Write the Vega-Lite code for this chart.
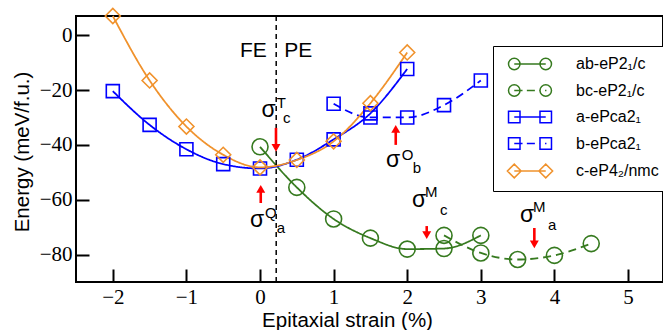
{
  "$schema": "https://vega.github.io/schema/vega-lite/v6.json",
  "autosize": "none",
  "width": 587,
  "height": 266,
  "padding": {"left": 76, "top": 16, "right": 0, "bottom": 48},
  "background": "white",
  "config": {
    "view": {"stroke": "black", "strokeWidth": 2},
    "axis": {"grid": false, "domain": false, "tickColor": "black", "tickWidth": 2, "tickSize": -13, "labelColor": "black", "titleColor": "black", "labelFont": "Liberation Serif", "labelFontSize": 21, "titleFont": "Liberation Sans", "titleFontSize": 20.5, "titleFontWeight": "normal", "labelOverlap": false, "labelFlush": false, "format": "d"}
  },
  "datasets": {
    "series": [
      {"name": "ab-eP2₁/c", "strain": 0, "energy": -40.7},
      {"name": "ab-eP2₁/c", "strain": 0.5, "energy": -55.5},
      {"name": "ab-eP2₁/c", "strain": 1, "energy": -67},
      {"name": "ab-eP2₁/c", "strain": 1.5, "energy": -74},
      {"name": "ab-eP2₁/c", "strain": 2, "energy": -78},
      {"name": "ab-eP2₁/c", "strain": 2.5, "energy": -77.8},
      {"name": "ab-eP2₁/c", "strain": 3, "energy": -73},
      {"name": "bc-eP2₁/c", "strain": 2.5, "energy": -73},
      {"name": "bc-eP2₁/c", "strain": 3, "energy": -79.4},
      {"name": "bc-eP2₁/c", "strain": 3.5, "energy": -81.8},
      {"name": "bc-eP2₁/c", "strain": 4, "energy": -80.3},
      {"name": "bc-eP2₁/c", "strain": 4.5, "energy": -76},
      {"name": "a-ePca2₁", "strain": -2, "energy": -20.4},
      {"name": "a-ePca2₁", "strain": -1.5, "energy": -32.7},
      {"name": "a-ePca2₁", "strain": -1, "energy": -41.6},
      {"name": "a-ePca2₁", "strain": -0.5, "energy": -47},
      {"name": "a-ePca2₁", "strain": 0, "energy": -48.6},
      {"name": "a-ePca2₁", "strain": 0.5, "energy": -45.4},
      {"name": "a-ePca2₁", "strain": 1, "energy": -38},
      {"name": "a-ePca2₁", "strain": 1.5, "energy": -28.5},
      {"name": "a-ePca2₁", "strain": 2, "energy": -12.3},
      {"name": "b-ePca2₁", "strain": 1, "energy": -25},
      {"name": "b-ePca2₁", "strain": 1.5, "energy": -30},
      {"name": "b-ePca2₁", "strain": 2, "energy": -30},
      {"name": "b-ePca2₁", "strain": 2.5, "energy": -25.5},
      {"name": "b-ePca2₁", "strain": 3, "energy": -16.5},
      {"name": "c-eP4₂/nmc", "strain": -2, "energy": 7},
      {"name": "c-eP4₂/nmc", "strain": -1.5, "energy": -16.5},
      {"name": "c-eP4₂/nmc", "strain": -1, "energy": -33.3},
      {"name": "c-eP4₂/nmc", "strain": -0.5, "energy": -43.6},
      {"name": "c-eP4₂/nmc", "strain": 0, "energy": -48.2},
      {"name": "c-eP4₂/nmc", "strain": 0.5, "energy": -45.5},
      {"name": "c-eP4₂/nmc", "strain": 1, "energy": -38.7},
      {"name": "c-eP4₂/nmc", "strain": 1.5, "energy": -24.8},
      {"name": "c-eP4₂/nmc", "strain": 2, "energy": -6.3}
    ],
    "boundary": [{"strain": 0.22}],
    "regions": [
      {"strain": -0.09, "energy": -7.9, "label": "FE"},
      {"strain": 0.52, "energy": -7.9, "label": "PE"}
    ],
    "arrows": [
      {"strain": 0.217, "tail": -33.8, "head": -41.1, "dir": "down"},
      {"strain": 1.844, "tail": -40.0, "head": -34.2, "dir": "up"},
      {"strain": 0.01, "tail": -61.2, "head": -56.0, "dir": "up"},
      {"strain": 2.265, "tail": -69.6, "head": -72.9, "dir": "down"},
      {"strain": 3.727, "tail": -70.3, "head": -76.3, "dir": "down"}
    ],
    "sigmas": [
      {"strain": 0.02, "energy": -29.7, "label": "σ"},
      {"strain": 1.71, "energy": -48.0, "label": "σ"},
      {"strain": -0.136, "energy": -69.8, "label": "σ"},
      {"strain": 2.065, "energy": -62.5, "label": "σ"},
      {"strain": 3.533, "energy": -68.0, "label": "σ"}
    ],
    "scripts": [
      {"strain": 0.227, "energy": -26.7, "label": "T"},
      {"strain": 0.313, "energy": -32.1, "label": "c"},
      {"strain": 1.925, "energy": -45.5, "label": "O"},
      {"strain": 2.075, "energy": -50.4, "label": "b"},
      {"strain": 0.068, "energy": -66.7, "label": "Q"},
      {"strain": 0.227, "energy": -72.2, "label": "a"},
      {"strain": 2.242, "energy": -58.9, "label": "M"},
      {"strain": 2.446, "energy": -65.6, "label": "c"},
      {"strain": 3.709, "energy": -64.4, "label": "M"},
      {"strain": 3.913, "energy": -71.0, "label": "a"}
    ]
  },
  "resolve": {"scale": {"shape": "independent"}, "legend": {"color": "independent", "shape": "independent"}},
  "layer": [
    {
      "data": {"name": "series"},
      "mark": {"type": "line", "interpolate": "monotone", "strokeWidth": 1.8},
      "encoding": {
        "x": {"field": "strain", "type": "quantitative", "scale": {"domain": [-2.5, 5.475], "nice": false, "zero": false},
          "axis": {"values": [-2, -1, 0, 1, 2, 3, 4, 5], "labelPadding": 17.5, "title": "Epitaxial strain (%)", "titleX": 271, "titleY": 44.5, "titleBaseline": "alphabetic", "titleAlign": "center"}},
        "y": {"field": "energy", "type": "quantitative", "scale": {"domain": [-90, 7], "nice": false, "zero": false},
          "axis": {"values": [-80, -60, -40, -20, 0], "labelPadding": 17, "title": "Energy (meV/f.u.)", "titleX": -48, "titleY": 135.5, "titleBaseline": "alphabetic", "titleAlign": "center", "titleAngle": -90}},
        "color": {"field": "name", "type": "nominal", "scale": {"domain": ["ab-eP2₁/c", "bc-eP2₁/c", "a-ePca2₁", "b-ePca2₁", "c-eP4₂/nmc"], "range": ["#367a1f", "#367a1f", "#0000ff", "#0000ff", "#f0922c"]}, "legend": null},
        "strokeDash": {"field": "name", "type": "nominal", "scale": {"domain": ["ab-eP2₁/c", "bc-eP2₁/c", "a-ePca2₁", "b-ePca2₁", "c-eP4₂/nmc"], "range": [[1, 0], [8, 5], [1, 0], [8, 5], [1, 0]]}, "legend": null}
      }
    },
    {
      "data": {"name": "boundary"},
      "mark": {"type": "rule", "color": "black", "strokeWidth": 1.5, "strokeDash": [5, 4]},
      "encoding": {"x": {"field": "strain", "type": "quantitative"}}
    },
    {
      "data": {"name": "series"},
      "transform": [{"filter": "indexof(datum.name, 'eP2₁/c') >= 0"}],
      "mark": {"type": "point", "shape": "circle", "filled": false, "size": 256, "strokeWidth": 1.6, "opacity": 1},
      "encoding": {
        "x": {"field": "strain", "type": "quantitative"},
        "y": {"field": "energy", "type": "quantitative"},
        "color": {"field": "name", "type": "nominal", "legend": null}}
    },
    {
      "data": {"name": "series"},
      "transform": [{"filter": "indexof(datum.name, 'ePca') >= 0"}],
      "mark": {"type": "point", "shape": "square", "filled": false, "size": 169, "strokeWidth": 1.6, "opacity": 1},
      "encoding": {
        "x": {"field": "strain", "type": "quantitative"},
        "y": {"field": "energy", "type": "quantitative"},
        "color": {"field": "name", "type": "nominal", "legend": null}}
    },
    {
      "data": {"name": "series"},
      "transform": [{"filter": "indexof(datum.name, 'nmc') >= 0"}],
      "mark": {"type": "point", "shape": "diamond", "filled": false, "size": 225, "strokeWidth": 1.6, "opacity": 1},
      "encoding": {
        "x": {"field": "strain", "type": "quantitative"},
        "y": {"field": "energy", "type": "quantitative"},
        "color": {"field": "name", "type": "nominal", "legend": null}}
    },
    {
      "data": {"name": "series"},
      "mark": {"type": "point", "filled": false, "opacity": 0},
      "encoding": {
        "x": {"field": "strain", "type": "quantitative"},
        "y": {"field": "energy", "type": "quantitative"},
        "color": {"field": "name", "type": "nominal",
          "legend": {"orient": "none", "legendX": 417, "legendY": 30, "title": null, "padding": 10, "strokeColor": "black", "fillColor": "white", "symbolSize": 132, "symbolStrokeWidth": 1.5, "symbolOpacity": 1, "symbolOffset": 19, "labelOffset": 38, "labelFont": "Liberation Sans", "labelFontSize": 16, "labelColor": "black", "rowPadding": 8.5, "labelLimit": 300}},
        "shape": {"field": "name", "type": "nominal",
          "scale": {"domain": ["ab-eP2₁/c", "bc-eP2₁/c", "a-ePca2₁", "b-ePca2₁", "c-eP4₂/nmc"],
            "range": [
              "M-3.74,0A1,1,0,1,1,-1.74,0A1,1,0,1,1,-3.74,0ZM1.74,0A1,1,0,1,1,3.74,0A1,1,0,1,1,1.74,0ZM-2.74,0L2.74,0",
              "M-3.74,0A1,1,0,1,1,-1.74,0A1,1,0,1,1,-3.74,0ZM1.74,0A1,1,0,1,1,3.74,0A1,1,0,1,1,1.74,0ZM-2.74,0L-1.3,0M-0.55,0L0.85,0M1.6,0L1.74,0M2.62,0L2.86,0",
              "M-3.74,-1H-1.74V1H-3.74ZM1.74,-1H3.74V1H1.74ZM-2.74,0L2.74,0",
              "M-3.74,-1H-1.74V1H-3.74ZM1.74,-1H3.74V1H1.74ZM-2.74,0L-1.3,0M-0.55,0L0.85,0M1.6,0L1.74,0M2.62,0L2.86,0",
              "M-3.94,0L-2.74,-1.2L-1.54,0L-2.74,1.2ZM1.54,0L2.74,-1.2L3.94,0L2.74,1.2ZM-2.74,0L2.74,0"
            ]},
          "legend": {"orient": "none", "legendX": 417, "legendY": 30, "title": null, "padding": 10, "strokeColor": "black", "fillColor": "white", "symbolSize": 132, "symbolStrokeWidth": 1.5, "symbolOpacity": 1, "symbolOffset": 19, "labelOffset": 38, "labelFont": "Liberation Sans", "labelFontSize": 16, "labelColor": "black", "rowPadding": 8.5, "labelLimit": 300}}
      }
    },
    {
      "data": {"name": "arrows"},
      "mark": {"type": "rule", "color": "#ff0000", "strokeWidth": 2.6},
      "encoding": {"x": {"field": "strain", "type": "quantitative"}, "y": {"field": "tail", "type": "quantitative"}, "y2": {"field": "head"}}
    },
    {
      "data": {"name": "arrows"},
      "transform": [{"filter": "datum.dir === 'down'"}],
      "mark": {"type": "point", "shape": "triangle-down", "filled": true, "color": "#ff0000", "size": 80, "opacity": 1, "strokeWidth": 0},
      "encoding": {"x": {"field": "strain", "type": "quantitative"}, "y": {"field": "head", "type": "quantitative"}}
    },
    {
      "data": {"name": "arrows"},
      "transform": [{"filter": "datum.dir === 'up'"}],
      "mark": {"type": "point", "shape": "triangle-up", "filled": true, "color": "#ff0000", "size": 80, "opacity": 1, "strokeWidth": 0},
      "encoding": {"x": {"field": "strain", "type": "quantitative"}, "y": {"field": "head", "type": "quantitative"}}
    },
    {
      "data": {"name": "regions"},
      "mark": {"type": "text", "font": "Liberation Sans", "fontSize": 21, "align": "center", "baseline": "alphabetic", "color": "black"},
      "encoding": {"x": {"field": "strain", "type": "quantitative"}, "y": {"field": "energy", "type": "quantitative"}, "text": {"field": "label"}}
    },
    {
      "data": {"name": "sigmas"},
      "mark": {"type": "text", "font": "Liberation Sans", "fontSize": 23, "align": "left", "baseline": "alphabetic", "color": "black"},
      "encoding": {"x": {"field": "strain", "type": "quantitative"}, "y": {"field": "energy", "type": "quantitative"}, "text": {"field": "label"}}
    },
    {
      "data": {"name": "scripts"},
      "mark": {"type": "text", "font": "Liberation Sans", "fontSize": 15, "align": "left", "baseline": "alphabetic", "color": "black"},
      "encoding": {"x": {"field": "strain", "type": "quantitative"}, "y": {"field": "energy", "type": "quantitative"}, "text": {"field": "label"}}
    }
  ]
}
